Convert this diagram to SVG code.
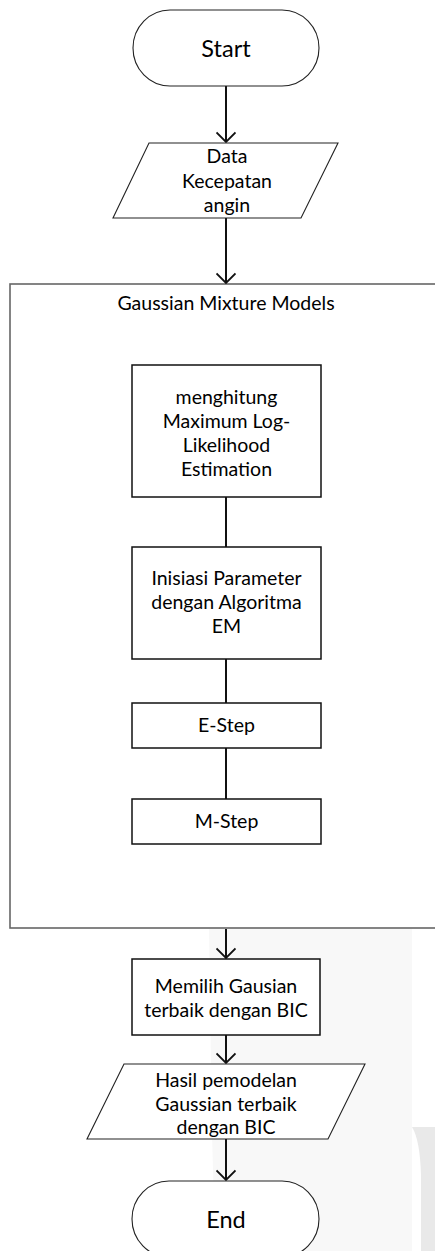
<svg xmlns="http://www.w3.org/2000/svg" width="435" height="1251" viewBox="0 0 435 1251">
<style>
text{font-family:Lato,"Liberation Sans",sans-serif;font-size:19.5px;fill:#000;text-anchor:middle}
.term{fill:#fff;stroke:#222;stroke-width:1.1}
.io{fill:#fff;stroke:#222;stroke-width:1.1}
.box{fill:#fff;stroke:#111;stroke-width:1.5}
.cont{fill:none;stroke:#666;stroke-width:1.6}
.conn line{stroke:#111;stroke-width:2}
.big{font-size:23.5px}
</style>
<defs>
<marker id="arr" viewBox="0 0 12 20" refX="11" refY="10" markerWidth="12" markerHeight="20" markerUnits="userSpaceOnUse" orient="auto">
<path d="M1.5 0.5 L11 10 L1.5 19.5" fill="none" stroke="#111" stroke-width="1.8"/>
</marker>
</defs>
<rect width="435" height="1251" fill="#fff"/>
<g id="watermark">
<path d="M209 929 L412 929 L412 1251 L216 1251 Q213 1180 212 1130 Z" fill="#f8f8f8"/>
<path d="M412 1127 Q420 1140 421 1175 L421 1251 L435 1251 L435 1127 Z" fill="#e9e9e9"/>
</g>
<g id="gmm">
<rect class="cont" x="10" y="284" width="440" height="644"/>
<text x="226" y="310">Gaussian Mixture Models</text>
</g>
<g class="conn" id="connectors">
<line x1="226" y1="86" x2="226" y2="142" marker-end="url(#arr)"/>
<line x1="226" y1="218" x2="226" y2="283" marker-end="url(#arr)"/>
<line x1="226" y1="497" x2="226" y2="547"/>
<line x1="226" y1="659" x2="226" y2="703"/>
<line x1="226" y1="748" x2="226" y2="799"/>
<line x1="226" y1="929" x2="226" y2="958" marker-end="url(#arr)"/>
<line x1="226" y1="1035" x2="226" y2="1063" marker-end="url(#arr)"/>
<line x1="226" y1="1139" x2="226" y2="1180" marker-end="url(#arr)"/>
</g>
<g id="start">
<rect class="term" x="133" y="10" width="186" height="76" rx="37" ry="38"/>
<text class="big" x="226" y="57">Start</text>
</g>
<g id="data">
<polygon class="io" points="149,143 338,143 301,218 113,218"/>
<text x="227" y="163">Data</text>
<text x="227" y="187.5">Kecepatan</text>
<text x="227" y="212">angin</text>
</g>
<g id="mle">
<rect class="box" x="132" y="365" width="189" height="132"/>
<text x="226.5" y="404">menghitung</text>
<text x="226.5" y="428">Maximum Log-</text>
<text x="226.5" y="452">Likelihood</text>
<text x="226.5" y="476">Estimation</text>
</g>
<g id="init">
<rect class="box" x="132" y="547" width="189" height="112"/>
<text x="226.5" y="585">Inisiasi Parameter</text>
<text x="226.5" y="609">dengan Algoritma</text>
<text x="226.5" y="633">EM</text>
</g>
<g id="estep">
<rect class="box" x="132" y="703" width="189" height="45"/>
<text x="226.5" y="732">E-Step</text>
</g>
<g id="mstep">
<rect class="box" x="132" y="799" width="189" height="45"/>
<text x="226.5" y="828">M-Step</text>
</g>
<g id="pilih">
<rect class="box" x="132" y="959" width="188" height="76"/>
<text x="226" y="993">Memilih Gausian</text>
<text x="226" y="1017">terbaik dengan BIC</text>
</g>
<g id="hasil">
<polygon class="io" points="124,1064 365,1064 328,1139 87,1139"/>
<text x="226" y="1087">Hasil pemodelan</text>
<text x="226" y="1110.5">Gaussian terbaik</text>
<text x="226" y="1134">dengan BIC</text>
</g>
<g id="end">
<rect class="term" x="132" y="1181" width="187" height="76" rx="37" ry="38"/>
<text class="big" x="226" y="1228">End</text>
</g>
</svg>
